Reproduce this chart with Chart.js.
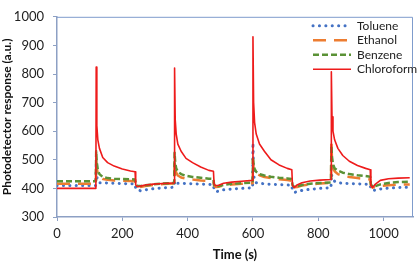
<!DOCTYPE html>
<html>
<head>
<meta charset="utf-8">
<script src="https://cdn.jsdelivr.net/npm/chart.js@4"></script>
<style>
html,body{margin:0;padding:0;background:#fff;}
#wrap{width:417px;height:266px;}
</style>
</head>
<body>
<div id="wrap"><canvas id="c" width="417" height="266"></canvas></div>
<script>
// Time axis (s)
const time = [0,60,119,
  120,122,125,130,140,155,175,200,225,239,
  241,246,255,270,295,325,359,
  360,362,365,370,380,395,415,440,465,479,
  481,486,495,510,535,565,599,
  600,602,605,610,620,635,655,680,705,719,
  721,726,735,750,775,805,839,
  840,842,845,850,860,875,895,920,945,959,
  961,966,975,990,1015,1045,1080];

const toluene = [410,410,410,
  490,440,425,420,420,419,418,417,416,416,
  400,394,392,395,399,402,404,
  425,420,419,418,418,417,416,415,414,413,
  395,389,390,395,398,400,402,
  560,450,425,420,418,416,414,413,412,411,
  392,386,388,393,397,400,402,
  450,440,432,425,420,418,417,416,415,414,
  398,393,394,398,401,403,404];

const ethanol = [416,416,416,
  500,470,450,440,433,430,428,427,426,425,
  412,405,405,408,412,415,417,
  490,470,455,445,438,434,431,428,426,425,
  410,405,406,410,414,416,418,
  500,470,460,452,446,440,436,432,429,427,
  410,404,405,410,414,417,419,
  570,500,475,460,450,444,440,436,433,431,
  412,403,404,408,411,413,414];

const benzene = [425,425,425,
  530,490,465,450,440,436,434,433,432,431,
  414,408,408,411,414,417,419,
  525,490,470,458,450,444,440,437,434,433,
  412,407,408,412,416,418,420,
  510,480,468,458,450,445,441,437,435,433,
  412,405,407,412,416,419,421,
  550,510,485,470,462,455,450,446,443,441,
  414,406,408,414,419,422,424];

const chloroform = [400,400,400,
  824,620,570,540,508,490,478,468,461,458,
  412,406,408,412,415,417,419,
  821,640,590,555,530,505,490,475,463,460,
  415,410,411,418,422,425,428,
  930,700,630,590,555,530,500,482,470,465,
  410,403,412,420,426,429,431,
  808,650,600,570,540,515,495,480,470,465,
  410,403,415,428,434,436,437];

const seriesNames = ['Toluene','Ethanol','Benzene','Chloroform'];
const xTicks = [0,200,400,600,800,1000];
const yTicks = [300,400,500,600,700,800,900,1000];

const pts = arr => arr.map((v,i)=>({x:time[i], y:v}));
const FONT = 'Lato, "Liberation Sans", sans-serif';
const AXIS = '#8da0c4';

const styles = [
  {borderColor:'#4472C4', borderWidth:3, borderDash:[0.1,6.3], borderCapStyle:'round', order:4},
  {borderColor:'#ED7D31', borderWidth:2.5, borderDash:[13,8], borderCapStyle:'butt', order:3},
  {borderColor:'#5b9236', borderWidth:2.5, borderDash:[6,3], borderCapStyle:'butt', order:2},
  {borderColor:'#ee1b1b', borderWidth:1.6, borderDash:[], borderCapStyle:'butt', order:1}
];
const dataArrays = [toluene, ethanol, benzene, chloroform];

const datasets = dataArrays.map((arr,i)=>Object.assign({
  label: seriesNames[i],
  data: pts(arr),
  pointRadius: 0,
  tension: 0,
  fill: false,
  borderJoinStyle: 'round'
}, styles[i]));

const frameLegend = {
  id:'frameLegend',
  beforeDatasetsDraw(chart){
    const a = chart.chartArea, ctx = chart.ctx;
    ctx.save();
    ctx.strokeStyle = '#7f9ccc';
    ctx.lineWidth = 1;
    ctx.beginPath();
    ctx.moveTo(a.left, a.top+0.5);
    ctx.lineTo(a.right-0.5, a.top+0.5);
    ctx.lineTo(a.right-0.5, a.bottom);
    ctx.stroke();
    ctx.restore();
  },
  afterDraw(chart){
    const a = chart.chartArea, ctx = chart.ctx;
    ctx.save();
    ctx.font = '12px ' + FONT;
    ctx.textBaseline = 'middle';
    ctx.textAlign = 'left';
    chart.data.datasets.forEach((ds,i)=>{
      const y = a.top + 9 + i*14.5;
      const x0 = a.right - 100, x1 = a.right - 62;
      ctx.strokeStyle = ds.borderColor;
      ctx.lineWidth = ds.borderWidth;
      ctx.lineCap = ds.borderCapStyle;
      ctx.setLineDash(ds.borderDash);
      ctx.beginPath();
      ctx.moveTo(x0, y); ctx.lineTo(x1, y);
      ctx.stroke();
      ctx.setLineDash([]);
      ctx.fillStyle = '#222';
      ctx.fillText(ds.label, a.right - 56, y);
    });
    ctx.restore();
  }
};

new Chart(document.getElementById('c'), {
  type:'line',
  data:{datasets},
  plugins:[frameLegend],
  options:{
    responsive:false,
    animation:false,
    devicePixelRatio:1,
    layout:{padding:{top:10,right:4,left:0,bottom:0}},
    plugins:{legend:{display:false}, tooltip:{enabled:false}},
    scales:{
      x:{
        type:'linear', min:0, max:1090,
        afterBuildTicks(s){ s.ticks = xTicks.map(v=>({value:v})); },
        afterFit(s){ s.height = 49; },
        grid:{display:true, drawOnChartArea:false, drawTicks:true, tickLength:4, color:AXIS},
        border:{display:true, color:AXIS, width:1.5},
        ticks:{color:'#222', font:{family:FONT, size:13}, padding:5, maxRotation:0, callback:v=>String(v)},
        title:{display:true, text:'Time (s)', color:'#111', font:{family:FONT, size:13, weight:'bold'}, padding:{top:4,bottom:3}}
      },
      y:{
        type:'linear', min:300, max:1000,
        afterBuildTicks(s){ s.ticks = yTicks.map(v=>({value:v})); },
        afterFit(s){ s.width = 57; },
        grid:{display:true, drawOnChartArea:false, drawTicks:true, tickLength:4, color:AXIS},
        border:{display:true, color:AXIS, width:1.5},
        ticks:{color:'#222', font:{family:FONT, size:13}, padding:9, callback:v=>String(v)},
        title:{display:true, text:'Photodetector response (a.u.)', color:'#111', font:{family:FONT, size:12, weight:'bold'}, padding:{top:0,bottom:2}}
      }
    }
  }
});
</script>
</body>
</html>
